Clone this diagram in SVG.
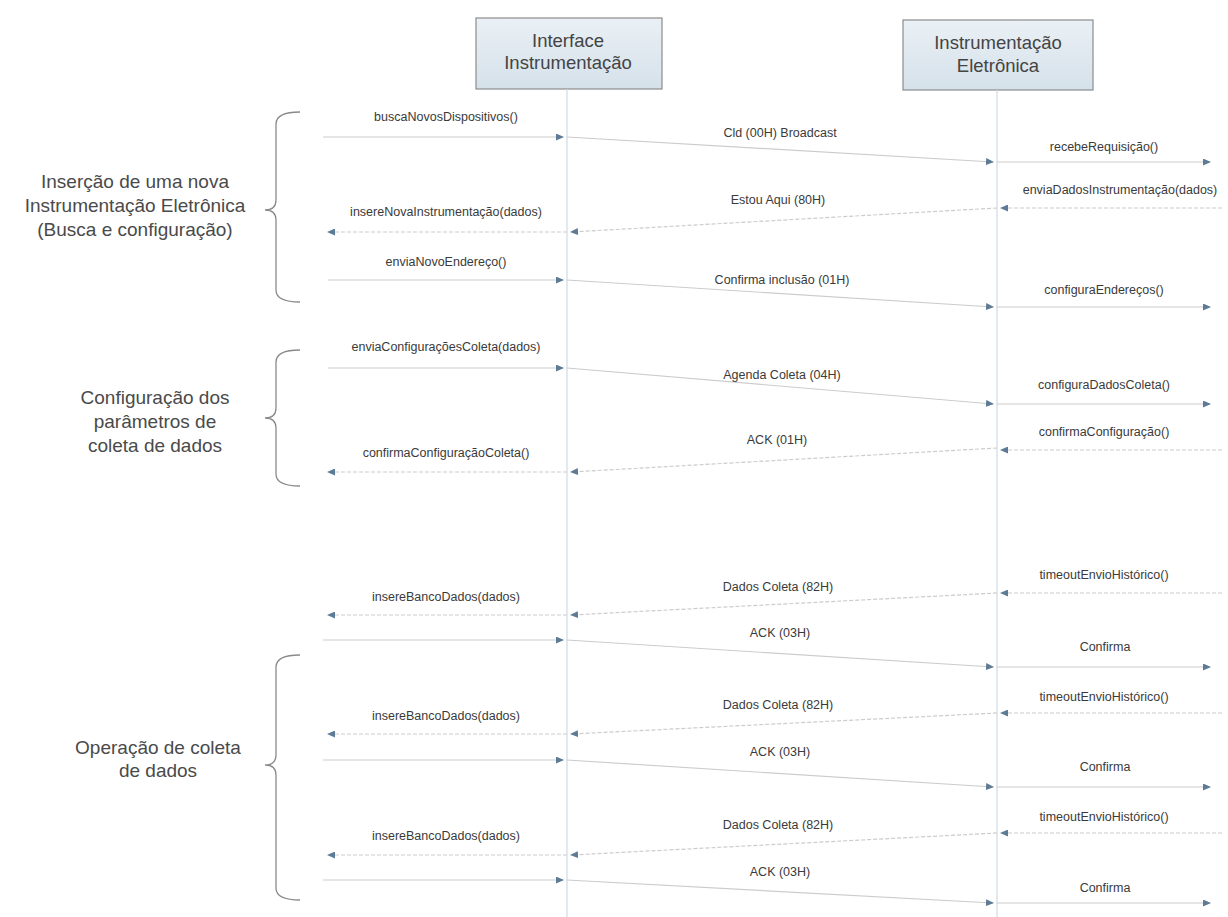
<svg xmlns="http://www.w3.org/2000/svg" width="1228" height="917" viewBox="0 0 1228 917">
<defs>
<linearGradient id="hdr" x1="0" y1="0" x2="0" y2="1">
<stop offset="0" stop-color="#eaf0f5"/>
<stop offset="1" stop-color="#d5e1ea"/>
</linearGradient>
<marker id="ah" markerWidth="8" markerHeight="7" refX="7" refY="3.5" orient="auto" markerUnits="userSpaceOnUse">
<path d="M0,0 L8,3.5 L0,7 z" fill="#5d7b96"/>
</marker>
<style>
.box{fill:url(#hdr);stroke:#8c8c8c;stroke-width:1.2}
.htxt{font-family:"Liberation Sans",Arial,sans-serif;font-size:18.5px;fill:#444;text-anchor:middle}
.life{stroke:#cddbe7;stroke-width:1.2}
.grp{font-family:"Liberation Sans",Arial,sans-serif;font-size:19px;fill:#4a4a4a;text-anchor:middle}
.brace{fill:none;stroke:#8a8a8a;stroke-width:1.3}
.msg{stroke:#cccccc;stroke-width:1.2;fill:none;marker-end:url(#ah)}
.ret{stroke:#cccccc;stroke-width:1.2;fill:none;stroke-dasharray:4 2;marker-end:url(#ah)}
.lbl{font-family:"Liberation Sans",Arial,sans-serif;font-size:12.5px;fill:#3a3a3a;text-anchor:middle}
</style>
</defs>
<rect width="1228" height="917" fill="#ffffff"/>

<g id="lifeline-interface">
<rect class="box" x="476" y="18" width="186" height="71"/>
<text class="htxt" x="568" y="47">Interface</text>
<text class="htxt" x="568" y="69">Instrumentação</text>
<line class="life" x1="567" y1="89" x2="567" y2="917"/>
</g>

<g id="lifeline-eletronica">
<rect class="box" x="903" y="20" width="190" height="70"/>
<text class="htxt" x="998" y="49">Instrumentação</text>
<text class="htxt" x="998" y="72">Eletrônica</text>
<line class="life" x1="997" y1="90" x2="997" y2="917"/>
</g>

<g id="group-insercao">
<path class="brace" d="M300,112 Q276,112 276,124 L276,200 Q276,210 265,210 Q276,210 276,220 L276,290 Q276,302 300,302"/>
<text class="grp" x="135" y="188">Inserção de uma nova</text>
<text class="grp" x="135" y="212">Instrumentação Eletrônica</text>
<text class="grp" x="135" y="236">(Busca e configuração)</text>
</g>

<g id="group-configuracao">
<path class="brace" d="M300,350 Q276,350 276,362 L276,408 Q276,418 265,418 Q276,418 276,428 L276,474 Q276,486 300,486"/>
<text class="grp" x="155" y="404">Configuração dos</text>
<text class="grp" x="155" y="428">parâmetros de</text>
<text class="grp" x="155" y="452">coleta de dados</text>
</g>

<g id="group-operacao">
<path class="brace" d="M300,655 Q276,655 276,667 L276,755 Q276,765 265,765 Q276,765 276,775 L276,888 Q276,900 300,900"/>
<text class="grp" x="158" y="754">Operação de coleta</text>
<text class="grp" x="158" y="777">de dados</text>
</g>

<g id="connectors">
<line class="msg" x1="323" y1="137" x2="563" y2="137"/>
<text class="lbl" x="446" y="121">buscaNovosDispositivos()</text>
<line class="msg" x1="567" y1="137" x2="993" y2="162"/>
<text class="lbl" x="780" y="137">Cld (00H) Broadcast</text>
<line class="msg" x1="997" y1="162" x2="1210" y2="162"/>
<text class="lbl" x="1104" y="151">recebeRequisição()</text>

<line class="ret" x1="1222" y1="208" x2="1001" y2="208"/>
<text class="lbl" x="1120" y="194">enviaDadosInstrumentação(dados)</text>
<line class="ret" x1="997" y1="208" x2="571" y2="232"/>
<text class="lbl" x="778" y="204">Estou Aqui (80H)</text>
<line class="ret" x1="567" y1="232" x2="328" y2="232"/>
<text class="lbl" x="446" y="216">insereNovaInstrumentação(dados)</text>

<line class="msg" x1="328" y1="280" x2="563" y2="280"/>
<text class="lbl" x="446" y="266">enviaNovoEndereço()</text>
<line class="msg" x1="567" y1="280" x2="993" y2="307"/>
<text class="lbl" x="782" y="284">Confirma inclusão (01H)</text>
<line class="msg" x1="997" y1="307" x2="1210" y2="307"/>
<text class="lbl" x="1104" y="294">configuraEndereços()</text>

<line class="msg" x1="328" y1="368" x2="563" y2="368"/>
<text class="lbl" x="446" y="351">enviaConfiguraçõesColeta(dados)</text>
<line class="msg" x1="567" y1="368" x2="993" y2="404"/>
<text class="lbl" x="782" y="379">Agenda Coleta (04H)</text>
<line class="msg" x1="997" y1="404" x2="1210" y2="404"/>
<text class="lbl" x="1104" y="389">configuraDadosColeta()</text>

<line class="ret" x1="1222" y1="450" x2="1001" y2="450"/>
<text class="lbl" x="1104" y="436">confirmaConfiguração()</text>
<line class="ret" x1="997" y1="448" x2="571" y2="472"/>
<text class="lbl" x="777" y="444">ACK (01H)</text>
<line class="ret" x1="567" y1="472" x2="328" y2="472"/>
<text class="lbl" x="446" y="457">confirmaConfiguraçãoColeta()</text>

<line class="ret" x1="1222" y1="593" x2="1001" y2="593"/>
<text class="lbl" x="1104" y="579">timeoutEnvioHistórico()</text>
<line class="ret" x1="997" y1="593" x2="571" y2="615"/>
<text class="lbl" x="778" y="591">Dados Coleta (82H)</text>
<line class="ret" x1="567" y1="615" x2="328" y2="615"/>
<text class="lbl" x="446" y="601">insereBancoDados(dados)</text>
<line class="msg" x1="323" y1="640" x2="563" y2="640"/>
<line class="msg" x1="567" y1="640" x2="993" y2="667"/>
<text class="lbl" x="780" y="637">ACK (03H)</text>
<line class="msg" x1="997" y1="667" x2="1210" y2="667"/>
<text class="lbl" x="1105" y="651">Confirma</text>

<line class="ret" x1="1222" y1="713" x2="1001" y2="713"/>
<text class="lbl" x="1104" y="701">timeoutEnvioHistórico()</text>
<line class="ret" x1="997" y1="713" x2="571" y2="734"/>
<text class="lbl" x="778" y="709">Dados Coleta (82H)</text>
<line class="ret" x1="567" y1="734" x2="328" y2="734"/>
<text class="lbl" x="446" y="720">insereBancoDados(dados)</text>
<line class="msg" x1="323" y1="760" x2="563" y2="760"/>
<line class="msg" x1="567" y1="760" x2="993" y2="787"/>
<text class="lbl" x="780" y="756">ACK (03H)</text>
<line class="msg" x1="997" y1="787" x2="1210" y2="787"/>
<text class="lbl" x="1105" y="771">Confirma</text>

<line class="ret" x1="1222" y1="833" x2="1001" y2="833"/>
<text class="lbl" x="1104" y="821">timeoutEnvioHistórico()</text>
<line class="ret" x1="997" y1="833" x2="571" y2="855"/>
<text class="lbl" x="778" y="829">Dados Coleta (82H)</text>
<line class="ret" x1="567" y1="855" x2="328" y2="855"/>
<text class="lbl" x="446" y="840">insereBancoDados(dados)</text>
<line class="msg" x1="323" y1="880" x2="563" y2="880"/>
<line class="msg" x1="567" y1="880" x2="993" y2="903"/>
<text class="lbl" x="780" y="876">ACK (03H)</text>
<line class="msg" x1="997" y1="903" x2="1210" y2="903"/>
<text class="lbl" x="1105" y="892">Confirma</text>
</g>
</svg>
